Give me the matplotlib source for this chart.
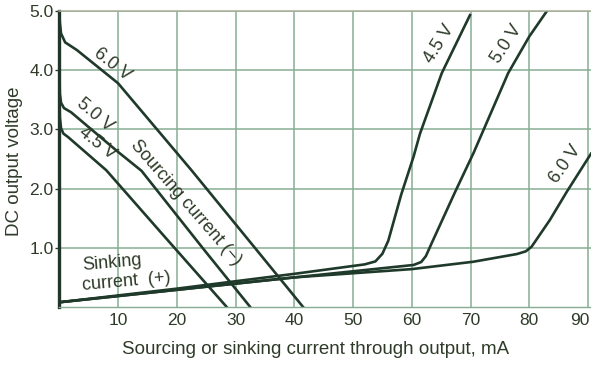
import matplotlib
matplotlib.use("Agg")
import matplotlib.pyplot as plt
from matplotlib.transforms import ScaledTranslation

# ---- data ----
x_ticks = [10, 20, 30, 40, 50, 60, 70, 80, 90]
y_ticks = [1.0, 2.0, 3.0, 4.0, 5.0]
x_tick_labels = ["10", "20", "30", "40", "50", "60", "70", "80", "90"]
y_tick_labels = ["1.0", "2.0", "3.0", "4.0", "5.0"]

# sourcing current curves (output voltage falls with current)
src_45_x = [0.0, 0.1, 0.3, 0.7, 1.5, 8.0, 18.0, 28.5]
src_45_y = [3.70, 3.20, 3.02, 2.93, 2.87, 2.31, 1.18, 0.0]
src_50_x = [0.0, 0.1, 0.3, 0.8, 2.0, 10.0, 14.0, 24.7, 32.5]
src_50_y = [4.10, 3.60, 3.45, 3.36, 3.29, 2.62, 2.30, 0.96, 0.0]
src_60_x = [0.0, 0.1, 0.3, 1.0, 3.0, 10.0, 22.5, 33.7, 41.5]
src_60_y = [5.00, 4.80, 4.62, 4.47, 4.34, 3.78, 2.31, 0.95, 0.0]

# sinking current curves (output voltage rises with current)
snk_45_x = [0.0, 20.0, 40.0, 52.0, 53.8, 55.0, 56.0, 58.2, 60.3, 61.4, 65.1, 69.9]
snk_45_y = [0.08, 0.31, 0.56, 0.72, 0.77, 0.90, 1.12, 1.90, 2.54, 2.93, 3.95, 4.93]
snk_50_x = [0.0, 20.0, 40.0, 60.3, 61.6, 62.4, 63.3, 67.4, 70.5, 76.4, 80.0, 83.0]
snk_50_y = [0.08, 0.29, 0.50, 0.71, 0.76, 0.86, 1.06, 1.95, 2.60, 3.95, 4.57, 5.00]
snk_60_x = [0.0, 20.0, 40.0, 60.0, 70.5, 77.9, 79.4, 80.4, 83.5, 86.4, 90.5]
snk_60_y = [0.08, 0.29, 0.50, 0.64, 0.765, 0.895, 0.94, 1.02, 1.47, 1.95, 2.59]

# ---- styling ----
FONT = ["Liberation Sans", "DejaVu Sans"]
plt.rcParams["font.family"] = FONT
CURVE = "#1f3a2a"
GRID = "#86ad92"
TEXT = "#2e3b28"

fig = plt.figure(figsize=(5.91, 3.65), dpi=100)
ax = fig.add_axes([0.1003, 0.1589, 0.8997, 0.8110])
ax.set_xlim(0, 90.5)
ax.set_ylim(0, 5.0)

ax.set_xticks(x_ticks)
ax.set_xticklabels(x_tick_labels)
ax.set_yticks(y_ticks)
ax.set_yticklabels(y_tick_labels)
ax.grid(True, color=GRID, linewidth=1.1)
ax.set_axisbelow(True)

ax.spines["right"].set_visible(False)
ax.spines["left"].set_color("#22352a")
ax.spines["left"].set_linewidth(2.4)
ax.spines["top"].set_color("#a9ae98")
ax.spines["top"].set_linewidth(1.1)
ax.spines["bottom"].set_color(GRID)
ax.spines["bottom"].set_linewidth(1.0)

ax.tick_params(axis="x", length=0, pad=4, labelsize=12.5, labelcolor=TEXT)
ax.tick_params(axis="y", length=3, width=1, color=TEXT, pad=1, labelsize=12.5,
               labelcolor=TEXT)
# keep the last x tick label inside the figure, as in the reference
last = ax.get_xticklabels()[-1]
last.set_transform(last.get_transform() + ScaledTranslation(-8 / 100, 0, fig.dpi_scale_trans))

lw = 1.9
for xs, ys in [(src_45_x, src_45_y), (src_50_x, src_50_y), (src_60_x, src_60_y),
               (snk_45_x, snk_45_y), (snk_50_x, snk_50_y), (snk_60_x, snk_60_y)]:
    ax.plot(xs, ys, color=CURVE, linewidth=lw, solid_joinstyle="round")

tkw = dict(color=TEXT, fontsize=13, ha="center", va="center",
           rotation_mode="anchor")
ax.text(9.1, 4.09, "6.0 V", rotation=-38, **tkw)
ax.text(6.0, 3.24, "5.0 V", rotation=-40, **tkw)
ax.text(6.5, 2.77, "4.5 V", rotation=-38, **tkw)
ax.text(21.5, 1.76, "Sourcing current (\u2212)", rotation=-49, **tkw)
ax.text(64.6, 4.44, "4.5 V", rotation=58, **tkw)
ax.text(76.1, 4.44, "5.0 V", rotation=57, **tkw)
ax.text(86.1, 2.41, "6.0 V", rotation=55, **tkw)
ax.text(3.9, 0.70, "Sinking", rotation=5, color=TEXT, fontsize=13,
        ha="left", va="center", rotation_mode="anchor")
ax.text(3.9, 0.36, "current  (+)", rotation=5, color=TEXT, fontsize=13,
        ha="left", va="center", rotation_mode="anchor")

fig.text(316 / 591, 1 - 350 / 365, "Sourcing or sinking current through output, mA",
         ha="center", va="center", fontsize=13.5, color=TEXT)
fig.text(15 / 591, 1 - 161 / 365, "DC output voltage", rotation=90,
         ha="center", va="center", fontsize=13.5, color=TEXT)

fig.savefig("out.png", dpi=100, facecolor="white")
